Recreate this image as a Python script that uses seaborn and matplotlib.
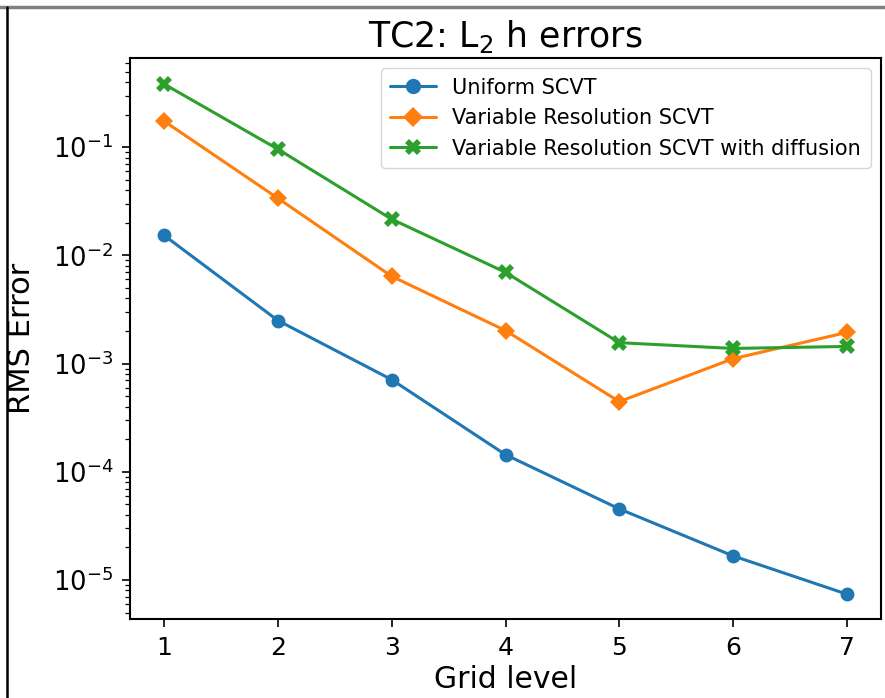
import numpy as np
import pandas as pd
import matplotlib
matplotlib.use("Agg")
import matplotlib.pyplot as plt
from matplotlib.lines import Line2D
from matplotlib.ticker import LogLocator, NullFormatter
import seaborn as sns

levels = [1, 2, 3, 4, 5, 6, 7]
uniform = [0.0153, 2.50e-3, 7.1e-4, 1.44e-4, 4.54e-5, 1.67e-5, 7.4e-6]
varres = [0.174, 0.0337, 6.4e-3, 2.02e-3, 4.45e-4, 1.11e-3, 1.94e-3]
varres_diff = [0.383, 0.0958, 0.0216, 6.97e-3, 1.56e-3, 1.38e-3, 1.44e-3]
series_names = ["Uniform SCVT", "Variable Resolution SCVT",
                "Variable Resolution SCVT with diffusion"]
yticks = [1e-5, 1e-4, 1e-3, 1e-2, 1e-1]

sns.set_theme(style="ticks")
plt.rcParams["font.family"] = ["DejaVu Sans"]
plt.rcParams["mathtext.fontset"] = "dejavusans"
for k in ["text.color", "axes.labelcolor", "xtick.color", "ytick.color", "axes.edgecolor"]:
    plt.rcParams[k] = "black"

df = pd.DataFrame({
    "level": levels * 3,
    "err": uniform + varres + varres_diff,
    "series": [series_names[0]] * 7 + [series_names[1]] * 7 + [series_names[2]] * 7,
})

palette = {series_names[0]: "#1f77b4", series_names[1]: "#ff7f0e", series_names[2]: "#2ca02c"}
markers = {series_names[0]: "o", series_names[1]: "D", series_names[2]: "X"}
msize = {series_names[0]: 10, series_names[1]: 9.5, series_names[2]: 11}

fig = plt.figure(figsize=(8.85, 6.98), dpi=100)
ax = fig.add_axes([130 / 885, 1 - 619 / 698, (881 - 130) / 885, (619 - 58) / 698])

sns.lineplot(data=df, x="level", y="err", hue="series", style="series",
             markers=markers, dashes=False, palette=palette, ax=ax,
             linewidth=2.2, markersize=9.5, markeredgewidth=0)
for line, name in zip(ax.get_lines(), series_names):
    line.set_markersize(msize[name])

ax.set_yscale("log")
ax.set_xlim(0.7, 7.3)
ax.set_ylim(4.36e-6, 0.667)
ax.set_xticks(levels)
ax.set_yticks(yticks)
ax.yaxis.set_minor_locator(LogLocator(base=10, subs=np.arange(2, 10), numticks=20))
ax.yaxis.set_minor_formatter(NullFormatter())
ax.set_xticklabels([str(v) for v in levels], fontsize=18)
for lab in ax.get_yticklabels():
    lab.set_fontsize(18.5)
ax.tick_params(axis="both", which="major", direction="out", length=6, width=1.2, color="black", pad=6)
ax.tick_params(axis="y", which="minor", direction="out", length=3.5, width=0.9, color="black")
for s in ax.spines.values():
    s.set_color("black")
    s.set_linewidth(1.5)

ax.set_xlabel("Grid level", fontsize=21.5, labelpad=4)
ax.set_ylabel("RMS Error", fontsize=22)
ax.yaxis.set_label_coords((36 - 130) / 751, 0.5)
ax.set_title(r"TC2: $\mathregular{L_2}$ h errors", fontsize=25, pad=8)

leg = ax.legend(loc="upper right", fontsize=15, frameon=True, labelspacing=0.5,
                borderpad=0.45, handlelength=2.2, handletextpad=0.8,
                bbox_to_anchor=(1.0, 1.0), borderaxespad=0.5)
leg.get_frame().set_edgecolor("#cccccc")
leg.get_frame().set_linewidth(1.0)
for h, name in zip(leg.legend_handles, series_names):
    h.set_markersize(msize[name] + 1)

fig.add_artist(Line2D([0, 1], [1 - 6.5 / 698, 1 - 6.5 / 698], transform=fig.transFigure,
                      color="#808080", linewidth=2.5))
fig.add_artist(Line2D([6.5 / 885, 6.5 / 885], [0, 1 - 6.5 / 698], transform=fig.transFigure,
                      color="black", linewidth=1.8))

fig.savefig("out.png", dpi=100)
